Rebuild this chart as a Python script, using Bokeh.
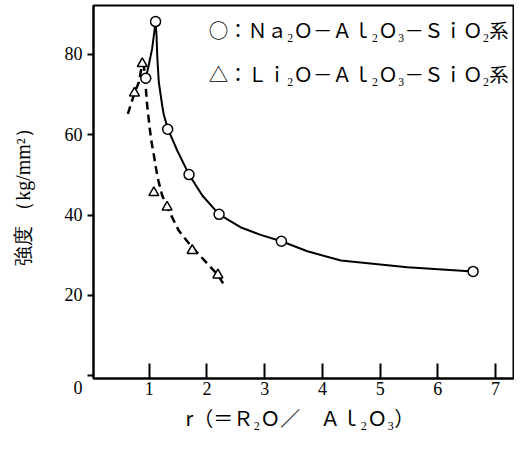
from bokeh.plotting import figure
from bokeh.models import Label, FixedTicker, Title
from bokeh.embed import file_html
from bokeh.resources import INLINE

# ---- data ----
# Na2O-Al2O3-SiO2 series (open circles)
na_r = [0.94, 1.11, 1.32, 1.69, 2.21, 3.29, 6.61]
na_strength = [74.1, 88.2, 61.4, 50.1, 40.2, 33.5, 26.0]
# Li2O-Al2O3-SiO2 series (open triangles)
li_r = [0.745, 0.88, 1.08, 1.31, 1.745, 2.19]
li_strength = [70.4, 77.7, 45.6, 42.0, 31.2, 25.1]

# hand-drawn curves
na_curve_r = [0.94, 0.99, 1.05, 1.08, 1.11, 1.127, 1.139, 1.166, 1.225, 1.25,
              1.32, 1.485, 1.69, 1.92, 2.21, 2.58, 2.93, 3.29, 3.74, 4.32,
              5.47, 6.61]
na_curve_s = [74.1, 77.2, 81.4, 84.7, 88.2, 84.7, 79.7, 73.1, 67.3, 65.2,
              61.6, 56.1, 50.1, 44.9, 40.2, 37.0, 35.1, 33.5, 31.0, 28.7,
              27.0, 26.0]
li_curve_r = [0.63, 0.745, 0.82, 0.88, 0.91, 0.94, 0.965, 1.01, 1.04, 1.08,
              1.12, 1.16, 1.225, 1.31, 1.51, 1.72, 2.19, 2.32]
li_curve_s = [65.2, 70.4, 73.1, 77.7, 77.0, 71.8, 67.3, 61.5, 58.2, 55.0,
              51.5, 48.5, 44.9, 42.0, 36.2, 32.4, 25.1, 22.1]

x_ticks = [1, 2, 3, 4, 5, 6, 7]
y_ticks = [0, 20, 40, 60, 80]

legend_na = "○：Ｎａ₂Ｏ－Ａｌ₂Ｏ₃－ＳｉＯ₂系"
legend_li = "△：Ｌｉ₂Ｏ－Ａｌ₂Ｏ₃－ＳｉＯ₂系"
x_title = "r（＝Ｒ₂Ｏ／　Ａｌ₂Ｏ₃）"
y_title = "強度 （kg/mm²）"

SERIF = "Liberation Serif"
CJK = "Noto Sans CJK JP"

p = figure(width=514, height=435, x_range=(0.035, 7.31), y_range=(-0.67, 92.2),
           output_backend="svg", toolbar_location=None,
           min_border_left=93, min_border_right=1, min_border_top=5,
           min_border_bottom=57)
p.xgrid.visible = False
p.ygrid.visible = False
p.outline_line_color = "black"
p.outline_line_width = 2
p.background_fill_color = "white"
p.border_fill_color = "white"

ax = p.xaxis[0]
ax.ticker = FixedTicker(ticks=x_ticks)
ax.major_tick_in = 15
ax.major_tick_out = 0
ax.minor_tick_line_color = None
ax.axis_line_width = 2
ax.major_tick_line_width = 2
ax.major_label_text_font = SERIF
ax.major_label_text_font_size = "18px"
ax.major_label_text_color = "black"
ax.major_label_standoff = 3

ay = p.yaxis[0]
ay.ticker = FixedTicker(ticks=y_ticks)
ay.major_label_overrides = {0: "\n0"}
ay.major_tick_in = 0
ay.major_tick_out = 6
ay.minor_tick_line_color = None
ay.axis_line_width = 2
ay.major_tick_line_width = 2
ay.major_label_text_font = SERIF
ay.major_label_text_font_size = "18px"
ay.major_label_text_color = "black"
ay.major_label_standoff = 5
ay.axis_label = y_title
ay.axis_label_text_font = SERIF
ay.axis_label_text_font_size = "20px"
ay.axis_label_text_font_style = "normal"
ay.axis_label_text_color = "black"
ay.axis_label_standoff = 28

# curves
p.line(na_curve_r, na_curve_s, line_color="black", line_width=2)
p.line(li_curve_r, li_curve_s, line_color="black", line_width=2.5, line_dash="8 5")

# markers
p.scatter(na_r, na_strength, marker="circle", size=10, fill_color="white",
          line_color="black", line_width=1.5)
p.scatter(li_r, li_strength, marker="triangle", size=10, fill_color="white",
          line_color="black", line_width=1.5)

# x title below the axis
p.add_layout(Title(text=x_title, align="left", offset=92, text_font=CJK,
                   text_font_size="20px", text_font_style="normal",
                   text_color="black", standoff=6), "below")

# legend texts
p.add_layout(Label(x=2.03, y=86.2, text=legend_na, text_font=CJK,
                   text_font_size="19.5px", text_align="left",
                   text_baseline="middle", text_color="black"))
p.add_layout(Label(x=2.03, y=75.3, text=legend_li, text_font=CJK,
                   text_font_size="19.5px", text_align="left",
                   text_baseline="middle", text_color="black"))

open("out.html", "w").write(file_html(p, INLINE))
